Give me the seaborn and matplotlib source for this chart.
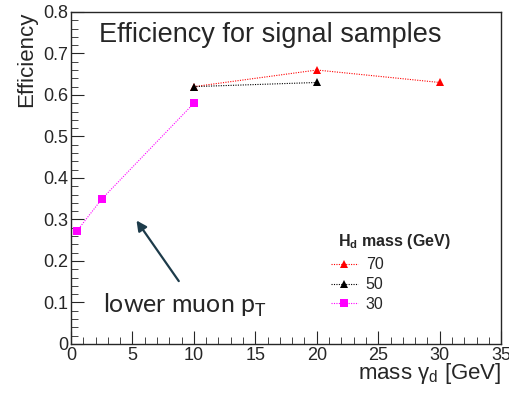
import pandas as pd
import matplotlib.pyplot as plt
import seaborn as sns

# data
mass_70 = [10, 20, 30]
eff_70 = [0.62, 0.66, 0.63]
mass_50 = [10, 20]
eff_50 = [0.62, 0.63]
mass_30 = [0.5, 2.5, 10]
eff_30 = [0.273, 0.349, 0.58]
hd_labels = ["70", "50", "30"]

df = pd.concat([
    pd.DataFrame({"mass": mass_70, "eff": eff_70, "Hd": "70"}),
    pd.DataFrame({"mass": mass_50, "eff": eff_50, "Hd": "50"}),
    pd.DataFrame({"mass": mass_30, "eff": eff_30, "Hd": "30"}),
])

sns.set_style("ticks")
plt.rcParams['font.family'] = ['Liberation Sans', 'DejaVu Sans']

fig = plt.figure(figsize=(5.09, 3.93), dpi=100)
ax = fig.add_axes([0.1395, 0.1247, 0.845, 0.845])

colors = {"70": "#ff0000", "50": "#000000", "30": "#ff00ff"}
markers = {"70": "^", "50": "^", "30": "s"}
dots = (0, (1, 1.2))
sns.lineplot(data=df, x="mass", y="eff", hue="Hd", style="Hd",
             hue_order=hd_labels, style_order=hd_labels,
             palette=colors, markers=markers, dashes=False,
             linewidth=0.8, markersize=6,
             markeredgewidth=0, sort=False, ax=ax, legend=False)
for ln in ax.lines:
    ln.set_linestyle(dots)

ax.set_xlim(0, 35)
ax.set_ylim(0, 0.8)
ax.set_xticks(range(0, 36, 5))
ax.set_xticks([i for i in range(0, 36)], minor=True)
ax.set_yticks([i / 10 for i in range(0, 9)])
ax.set_yticklabels(["0"] + [f"{i/10:.1f}" for i in range(1, 9)])
ax.set_yticks([i / 50 for i in range(0, 41)], minor=True)
ax.tick_params(which="both", direction="in", labelsize=13, pad=2)
ax.tick_params(which="major", length=9.5)
ax.tick_params(which="minor", length=5)
for s in ax.spines.values():
    s.set_linewidth(1)

ax.set_xlabel("mass γ$_\\mathregular{d}$ [GeV]", fontsize=16, loc="right", labelpad=-2)
ax.set_ylabel("Efficiency", fontsize=16, loc="top", labelpad=4)

ax.text(2.3, 0.745, "Efficiency for signal samples", fontsize=19.5, va="center")
ax.text(2.6, 0.092, r"lower muon p$_\mathregular{T}$", fontsize=18,
        va="center", family=["Lato", "DejaVu Sans"])
ax.annotate("", xy=(5.2, 0.303), xytext=(8.9, 0.146),
            arrowprops=dict(arrowstyle="-|>", color="#1d3b4a", lw=1.6,
                            mutation_scale=15))

# legend title drawn as its own text, offset from the handles like in ROOT
ax.text(0.62, 0.308, r"H$_\mathregular{d}$ mass (GeV)", transform=ax.transAxes,
        fontsize=11.5, fontweight="bold", va="center")
handles = [plt.Line2D([], [], color=colors[k], marker=markers[k], linestyle=dots,
                      linewidth=0.8, markersize=6, markeredgewidth=0)
           for k in hd_labels]
ax.legend(handles, hd_labels, loc="upper left", bbox_to_anchor=(0.585, 0.285),
          frameon=False, fontsize=11.5, handlelength=1.7, labelspacing=0.3,
          borderpad=0, handletextpad=0.5)

fig.savefig("out.png", dpi=100)
